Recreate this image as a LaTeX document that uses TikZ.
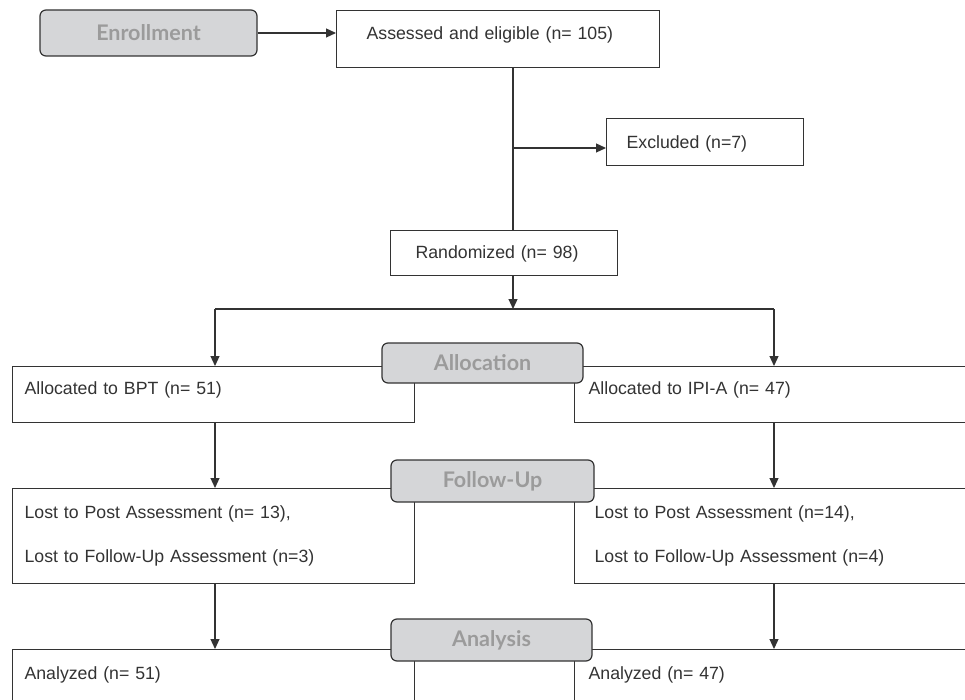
\documentclass[tikz,border=0pt]{standalone}
\usepackage{fontspec}
\setmainfont{Liberation Sans}
\newfontfamily\phasefont{Lato}
\usetikzlibrary{arrows.meta, positioning}
\definecolor{ink}{HTML}{333333}
\definecolor{phaseA}{HTML}{D5D6D8}
\definecolor{phaseT}{HTML}{9B9B9B}
\tikzset{
  body/.style={font=\fontsize{17.7}{21}\selectfont, text=ink},
  entry/.style={body, draw=ink, line width=1.2pt, fill=white, anchor=north west, inner ysep=0pt, align=left},
  twoline/.style={font=\fontsize{17.7}{44}\selectfont},
  phase/.style={rounded corners=6pt, draw=ink, line width=1.2pt, fill=phaseA, text=phaseT, font=\phasefont\bfseries\fontsize{21.5}{23}\selectfont, inner sep=0pt},
  link/.style={draw=ink, line width=1.2pt},
  arrow/.style={link, -{Triangle[length=10pt,width=9pt]}}
}

\begin{document}
\begin{tikzpicture}[x=1pt,y=-1pt]
\useasboundingbox (0,0) rectangle (965,700);

% boxes
\node[entry, text width=263pt, inner xsep=30pt, text height=29pt, text depth=28pt] (assess) at (336,10) {Assessed and eligible (n= 105)};
\node[entry, text width=157pt, inner xsep=20pt, text height=30pt, text depth=17pt] (excl) at (606,118) {Excluded (n=7)};
\node[entry, text width=177pt, inner xsep=25pt, text height=28pt, text depth=17pt] (rand) at (390,230) {Randomized (n= 98)};

\node[entry, text width=378pt, inner xsep=12pt, text height=28pt, text depth=28pt] (bpt) at (12,366) {Allocated to BPT (n= 51)};
\node[entry, text width=392pt, inner xsep=14pt, text height=28pt, text depth=28pt] (ipi) at (574,366) {Allocated to IPI-A (n= 47)};

\node[entry, twoline, text width=378pt, inner xsep=12pt, minimum height=95pt] (bptLost) at (12,488) {Lost to Post Assessment (n= 13),\\Lost to Follow-Up Assessment (n=3)};
\node[entry, twoline, text width=380pt, inner xsep=20pt, minimum height=95pt] (ipiLost) at (574,488) {Lost to Post Assessment (n=14),\\Lost to Follow-Up Assessment (n=4)};

\node[entry, text width=378pt, inner xsep=12pt, text height=30pt, text depth=71pt] (bptDone) at (12,649) {Analyzed (n= 51)};
\node[entry, text width=392pt, inner xsep=14pt, text height=30pt, text depth=71pt] (ipiDone) at (574,649) {Analyzed (n= 47)};

% connectors
\coordinate (spine) at (513,148);
\coordinate (fork) at (513,309);
\coordinate (left) at (215,0);
\coordinate (right) at (774,0);

\node[phase, minimum width=217pt, minimum height=46pt] (enroll) at (148.5,33) {Enrollment};
\draw[arrow] (enroll.east) -- (enroll.east -| assess.west);
\draw[link] (assess.south -| spine) -- (rand.north -| spine);
\draw[arrow] (spine) -- (spine -| excl.west);
\draw[arrow] (rand.south -| fork) -- (fork);
\draw[link] (fork -| left) -- (fork -| right);
\draw[arrow] (fork -| left) -- (bpt.north -| left);
\draw[arrow] (fork -| right) -- (ipi.north -| right);
\draw[arrow] (bpt.south -| left) -- (bptLost.north -| left);
\draw[arrow] (ipi.south -| right) -- (ipiLost.north -| right);
\draw[arrow] (bptLost.south -| left) -- (bptDone.north -| left);
\draw[arrow] (ipiLost.south -| right) -- (ipiDone.north -| right);

% phase labels
\node[phase, minimum width=201pt, minimum height=40pt] (alloc) at (482.5,363) {Allocation};
\node[phase, minimum width=203pt, minimum height=42pt] (follow) at (492.5,481) {Follow-Up};
\node[phase, minimum width=201pt, minimum height=42pt] (analysis) at (491.5,640) {Analysis};

\end{tikzpicture}
\end{document}
